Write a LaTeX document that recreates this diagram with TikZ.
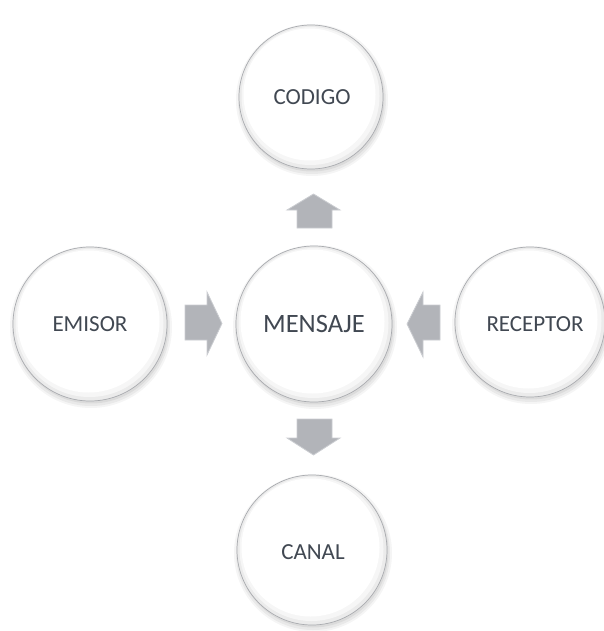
\documentclass[tikz,border=0pt]{standalone}
\usepackage{fontspec}
\setmainfont{Carlito}
\definecolor{txt}{HTML}{414852}
\definecolor{arr}{HTML}{B2B4B9}
\definecolor{arredge}{HTML}{CBCDD1}
\definecolor{rim}{HTML}{A9ABAF}
\begin{document}
\begin{tikzpicture}[x=1pt,y=-1pt]
\useasboundingbox (0,0) rectangle (603,631);
\tikzset{
  lbl/.style={circle, minimum size=150pt, inner sep=0pt, text=txt, font=\fontsize{23}{28}\selectfont},
  blk/.style={fill=arr, draw=arredge, line width=0.8pt, line join=miter},
}
% bubbles
\foreach \x/\y/\r in {311/97/72, 314/324/78, 90/324/77, 530/322/75, 312/550/75}{
  \fill[black,opacity=0.04] (\x+1,\y+3) circle ({(\r+4)*1pt});
  \fill[black,opacity=0.05] (\x+1,\y+3) circle ({(\r+2)*1pt});
  \fill[black,opacity=0.06] (\x+1,\y+2) circle ({(\r+0.5)*1pt});
  \fill[gray!16] (\x,\y) circle ({\r*1pt});
  \draw[rim, line width=0.7pt] (\x,\y) circle ({\r*1pt});
  \fill[gray!7] (\x-0.5,\y-1) circle ({(\r-3)*1pt});
  \fill[white] (\x-1.5,\y-2.5) circle ({(\r-6)*1pt});
}
% labels
\node[lbl] (codigo) at (312,97) {CODIGO};
\node[lbl, minimum size=156pt, font=\fontsize{26.5}{30}\selectfont] (mensaje) at (314,324) {MENSAJE};
\node[lbl] (emisor) at (90,324) {EMISOR};
\node[lbl] (receptor) at (535,324) {RECEPTOR};
\node[lbl] (canal) at (313,552) {CANAL};
% block arrows
\draw[blk] (297,228) -- (297,210) -- (287,210) -- (313.5,194) -- (340,210) -- (332,210) -- (332,228) -- cycle;
\draw[blk] (297,419) -- (332,419) -- (332,438) -- (340,438) -- (313.5,455) -- (287,438) -- (297,438) -- cycle;
\draw[blk] (185,305) -- (207,305) -- (207,292) -- (222,323.5) -- (207,355) -- (207,340) -- (185,340) -- cycle;
\draw[blk] (440,305) -- (423,305) -- (423,292) -- (407,324) -- (423,357) -- (423,340) -- (440,340) -- cycle;
\end{tikzpicture}
\end{document}
